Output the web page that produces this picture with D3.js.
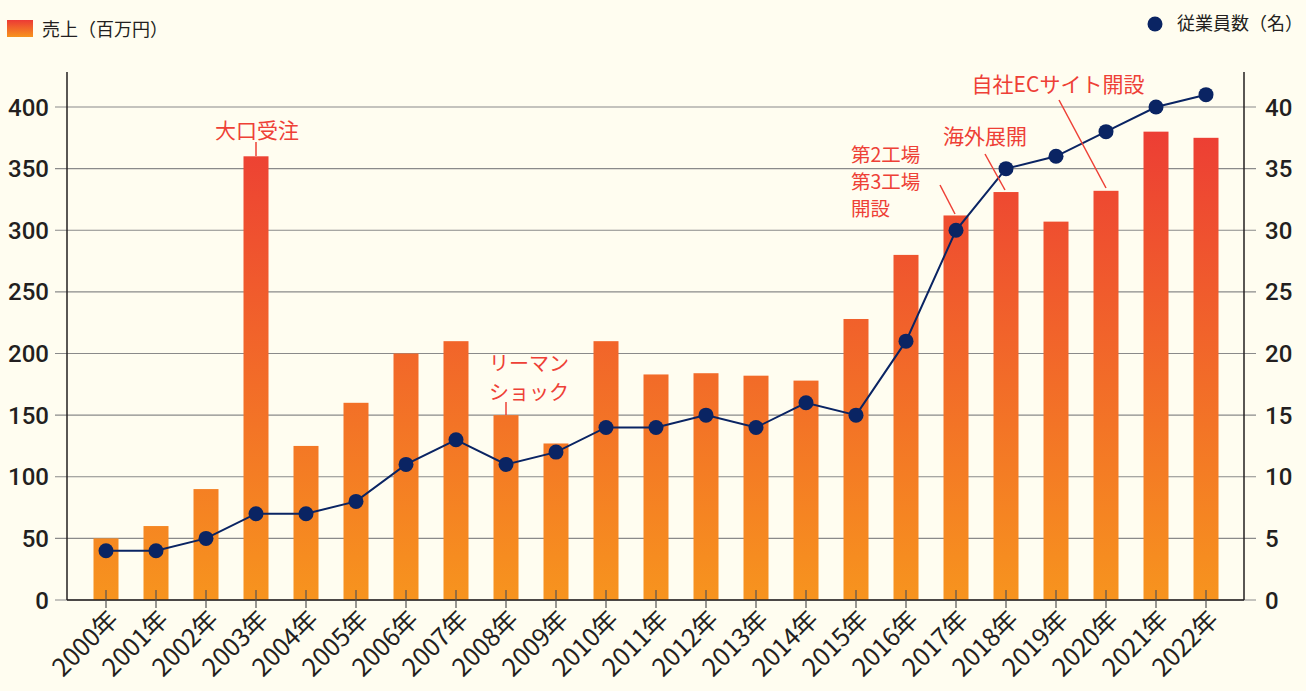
<!DOCTYPE html>
<html>
<head>
<meta charset="utf-8">
<script src="https://cdn.jsdelivr.net/npm/d3@7"></script>
<style>
  body { margin: 0; background: #fffdf0; }
  svg { display: block; font-family: Roboto, "Noto Sans CJK JP", sans-serif; }
  .labs { fill: #231f20; }
  .note { fill: #ee4036; font-family: "Noto Sans CJK JP", sans-serif; font-size: 21px; }
</style>
</head>
<body>
<div id="wrapper"></div>
<script>
// data
var years = ["2000年","2001年","2002年","2003年","2004年","2005年","2006年","2007年","2008年","2009年","2010年","2011年",
             "2012年","2013年","2014年","2015年","2016年","2017年","2018年","2019年","2020年","2021年","2022年"];
var sales = [50, 60, 90, 360, 125, 160, 200, 210, 150, 127, 210, 183, 184, 182, 178, 228, 280, 312, 331, 307, 332, 380, 375];
var staff = [4, 4, 5, 7, 7, 8, 11, 13, 11, 12, 14, 14, 15, 14, 16, 15, 21, 30, 35, 36, 38, 40, 41];
var salesTicks = [0, 50, 100, 150, 200, 250, 300, 350, 400];
var staffTicks = [0, 5, 10, 15, 20, 25, 30, 35, 40];

var width = 1306, height = 691;
var plot = { left: 67, right: 1244, top: 72, bottom: 600 };

var svg = d3.select("#wrapper").append("svg")
    .attr("width", width)
    .attr("height", height);

// gradient for bars (shared across chart height)
var defs = svg.append("defs");
var grad = defs.append("linearGradient")
    .attr("id", "barGrad")
    .attr("gradientUnits", "userSpaceOnUse")
    .attr("x1", 0).attr("x2", 0)
    .attr("y1", 110).attr("y2", 600);
grad.append("stop").attr("offset", "0%").attr("stop-color", "#ec3a35");
grad.append("stop").attr("offset", "100%").attr("stop-color", "#f7941e");

var legGrad = defs.append("linearGradient")
    .attr("id", "legGrad")
    .attr("x1", 0).attr("x2", 0).attr("y1", 0).attr("y2", 1);
legGrad.append("stop").attr("offset", "0%").attr("stop-color", "#ec3a35");
legGrad.append("stop").attr("offset", "100%").attr("stop-color", "#f7941e");

// scales
var x = d3.scaleBand().domain(years).range([81, 1231]).paddingInner(0.5).paddingOuter(0.25);
var y = d3.scaleLinear().domain([0, 400]).range([plot.bottom, 107]);
var y2 = d3.scaleLinear().domain([0, 40]).range([plot.bottom, 107]);
var cx = function(d) { return x(d) + x.bandwidth() / 2; };

// gridlines
svg.append("g").selectAll("line")
    .data(salesTicks)
    .enter()
    .append("line")
    .attr("x1", 55).attr("x2", 1256)
    .attr("y1", function(d) { return y(d); })
    .attr("y2", function(d) { return y(d); })
    .attr("stroke", "#8a8a8a")
    .attr("stroke-width", 1.2);

// bars
svg.append("g").selectAll("rect")
    .data(sales)
    .enter()
    .append("rect")
    .attr("x", function(d, i) { return x(years[i]); })
    .attr("y", function(d) { return y(d); })
    .attr("width", x.bandwidth())
    .attr("height", function(d) { return y(0) - y(d); })
    .attr("fill", "url(#barGrad)");

// axes lines
svg.append("line").attr("x1", plot.left).attr("x2", plot.left)
    .attr("y1", plot.top).attr("y2", plot.bottom)
    .attr("stroke", "#231f20").attr("stroke-width", 1.5);
svg.append("line").attr("x1", plot.right).attr("x2", plot.right)
    .attr("y1", plot.top).attr("y2", plot.bottom)
    .attr("stroke", "#231f20").attr("stroke-width", 1.5);
svg.append("line").attr("x1", plot.left).attr("x2", plot.right)
    .attr("y1", plot.bottom).attr("y2", plot.bottom)
    .attr("stroke", "#231f20").attr("stroke-width", 1.5);

// x ticks
svg.append("g").selectAll("line")
    .data(years)
    .enter()
    .append("line")
    .attr("x1", cx).attr("x2", cx)
    .attr("y1", 590).attr("y2", 608)
    .attr("stroke", "#555").attr("stroke-width", 1.2);

// left tick labels
svg.append("g").selectAll("text")
    .data(salesTicks)
    .enter()
    .append("text")
    .text(function(d) { return d; })
    .attr("x", 49)
    .attr("y", function(d) { return y(d) + 8.5; })
    .style("text-anchor", "end")
    .style("font-size", "24px")
    .style("font-weight", 500)
    .classed("labs", true);

// right tick labels
svg.append("g").selectAll("text")
    .data(staffTicks)
    .enter()
    .append("text")
    .text(function(d) { return d; })
    .attr("x", 1265)
    .attr("y", function(d) { return y2(d) + 8.5; })
    .style("text-anchor", "start")
    .style("font-size", "24px")
    .style("font-weight", 500)
    .classed("labs", true);

// year labels
svg.append("g").selectAll("text")
    .data(years)
    .enter()
    .append("text")
    .text(function(d) { return d; })
    .attr("transform", function(d) { return "translate(" + (cx(d) + 14) + ",621) rotate(-45)"; })
    .style("text-anchor", "end")
    .style("font-size", "25px")
    .style("font-family", "'Noto Sans CJK JP', sans-serif")
    .classed("labs", true);

// staff line
var line = d3.line()
    .x(function(d, i) { return cx(years[i]); })
    .y(function(d) { return y2(d); });
svg.append("path")
    .datum(staff)
    .attr("d", line)
    .attr("fill", "none")
    .attr("stroke", "#0a2463")
    .attr("stroke-width", 2);
svg.append("g").selectAll("circle")
    .data(staff)
    .enter()
    .append("circle")
    .attr("cx", function(d, i) { return cx(years[i]); })
    .attr("cy", function(d) { return y2(d); })
    .attr("r", 7.5)
    .attr("fill", "#0a2463");

// annotations
var addNote = function(lines, tx, ty, anchor, gap, size, lead) {
    lines.forEach(function(s, i) {
        svg.append("text").classed("note", true)
            .attr("x", tx).attr("y", ty + i * gap)
            .style("text-anchor", anchor)
            .style("font-size", size + "px")
            .text(s);
    });
    svg.append("line")
        .attr("x1", lead[0]).attr("y1", lead[1])
        .attr("x2", lead[2]).attr("y2", lead[3])
        .attr("stroke", "#ee4036").attr("stroke-width", 1.5);
};
addNote(["大口受注"], 257, 138, "middle", 0, 21, [256, 142, 256, 156]);
addNote(["リーマン", "ショック"], 529, 371, "middle", 29, 20, [506, 402, 506, 415]);
addNote(["第2工場", "第3工場", "開設"], 851, 162, "start", 27, 19.5, [940, 185, 955, 214]);
addNote(["海外展開"], 985, 144, "middle", 0, 21, [985, 154, 1005, 190]);
addNote(["自社ECサイト開設"], 1058, 92, "middle", 0, 21, [1059, 100, 1106, 188]);

// legends
svg.append("rect").attr("x", 7).attr("y", 20).attr("width", 26).attr("height", 17)
    .attr("fill", "url(#legGrad)");
svg.append("text").text("売上（百万円）")
    .attr("x", 42).attr("y", 36)
    .style("font-size", "18px")
    .style("font-family", "'Noto Sans CJK JP', sans-serif")
    .classed("labs", true);
svg.append("circle").attr("cx", 1155).attr("cy", 24).attr("r", 7.5).attr("fill", "#0a2463");
svg.append("text").text("従業員数（名）")
    .attr("x", 1177).attr("y", 30)
    .style("font-size", "18px")
    .style("font-family", "'Noto Sans CJK JP', sans-serif")
    .classed("labs", true);
</script>
</body>
</html>
